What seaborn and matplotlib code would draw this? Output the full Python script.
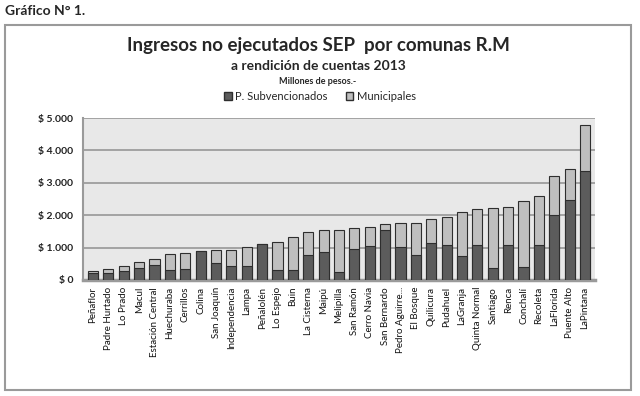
import matplotlib
matplotlib.use("Agg")
import matplotlib.pyplot as plt
import matplotlib.patches as mpatches
import seaborn as sns
import pandas as pd

comunas = ["Peñaflor", "Padre Hurtado", "Lo Prado", "Macul", "Estación Central",
           "Huechuraba", "Cerrillos", "Colina", "San Joaquín", "Independencia",
           "Lampa", "Peñalolén", "Lo Espejo", "Buin", "La Cisterna", "Maipú",
           "Melipilla", "San Ramón", "Cerro Navia", "San Bernardo", "Pedro Aguirre...",
           "El Bosque", "Quilicura", "Pudahuel", "LaGranja", "Quinta Normal",
           "Santiago", "Renca", "Conchalí", "Recoleta", "LaFlorida", "Puente Alto",
           "LaPintana"]
subvencionados = [230, 220, 280, 380, 460, 300, 330, 880, 510, 440,
                  440, 1100, 300, 320, 770, 870, 260, 970, 1050, 1550,
                  1020, 770, 1130, 1080, 750, 1080, 380, 1080, 400, 1080,
                  2010, 2470, 3350]
municipales = [50, 110, 150, 160, 180, 510, 510, 10, 400, 490,
               590, 0, 860, 1010, 700, 670, 1280, 640, 600, 180,
               730, 1000, 750, 850, 1360, 1110, 1830, 1160, 2050, 1500,
               1190, 970, 1430]
yticks = [0, 1000, 2000, 3000, 4000, 5000]
ytick_labels = ["$ 0", "$ 1.000", "$ 2.000", "$ 3.000", "$ 4.000", "$ 5.000"]

df = pd.DataFrame({"comuna": comunas, "sub": subvencionados, "mun": municipales})
df["total"] = df["sub"] + df["mun"]

sns.set_theme(style="white")
plt.rcParams["font.family"] = ["Lato", "DejaVu Sans"]

DARK = "#5c5c5c"
LIGHT = "#bfbfbf"
EDGE = "#2e2e2e"

fig = plt.figure(figsize=(6.4, 3.96), dpi=100)
ax = fig.add_axes([0.1297, 0.293, 0.80, 0.409])
ax.set_facecolor("#e8e8e8")

sns.barplot(data=df, x="comuna", y="total", color=LIGHT, saturation=1,
            width=0.66, edgecolor=EDGE, linewidth=0.8, ax=ax, zorder=3)
sns.barplot(data=df, x="comuna", y="sub", color=DARK, saturation=1,
            width=0.66, edgecolor=EDGE, linewidth=0.8, ax=ax, zorder=4)

ax.set_ylim(0, 5000)
ax.set_xlim(-0.65, len(comunas) - 0.35)
ax.set_yticks(yticks)
ax.set_yticklabels(ytick_labels, fontsize=7.5, fontweight="bold", color="#222222")
ax.yaxis.grid(True, color="#a3a3a3", linewidth=1.4, zorder=0)
ax.set_axisbelow(True)
ax.tick_params(axis="y", length=0, pad=7)
ax.tick_params(axis="x", length=0, pad=5)
ax.set_xticks(range(len(comunas)))
ax.set_xticklabels(comunas, rotation=90, fontsize=7, color="#111111")
ax.set_xlabel("")
ax.set_ylabel("")
for s in ["top", "right"]:
    ax.spines[s].set_visible(False)
ax.spines["left"].set_color("#9a9a9a")
ax.spines["left"].set_linewidth(1.5)
ax.spines["bottom"].set_color("#9a9a9a")
ax.spines["bottom"].set_linewidth(2.5)

# chart frame
fig.patches.append(mpatches.Rectangle((0.008, 0.015), 0.978, 0.922, transform=fig.transFigure,
                                      fill=False, edgecolor="#9a9a9a", linewidth=1.5))

fig.text(0.008, 0.972, "Gráfico N° 1.", fontsize=10, fontweight="bold", ha="left", va="center")
fig.text(0.497, 0.884, "Ingresos no ejecutados SEP  por comunas R.M", fontsize=13.5,
         fontweight="bold", ha="center", va="center")
fig.text(0.497, 0.833, "a rendición de cuentas 2013", fontsize=10, fontweight="bold",
         ha="center", va="center")
fig.text(0.497, 0.793, "Millones de pesos.-", fontsize=6.5, fontweight="bold",
         ha="center", va="center")

handles = [mpatches.Patch(facecolor=DARK, edgecolor=EDGE, label="P. Subvencionados"),
           mpatches.Patch(facecolor=LIGHT, edgecolor=EDGE, label="Municipales")]
fig.legend(handles=handles, loc="center", bbox_to_anchor=(0.5, 0.757), ncol=2,
           frameon=False, fontsize=8, handlelength=0.7, handleheight=0.7,
           handletextpad=0.3, columnspacing=1.6)

fig.savefig("out.png", dpi=100)
